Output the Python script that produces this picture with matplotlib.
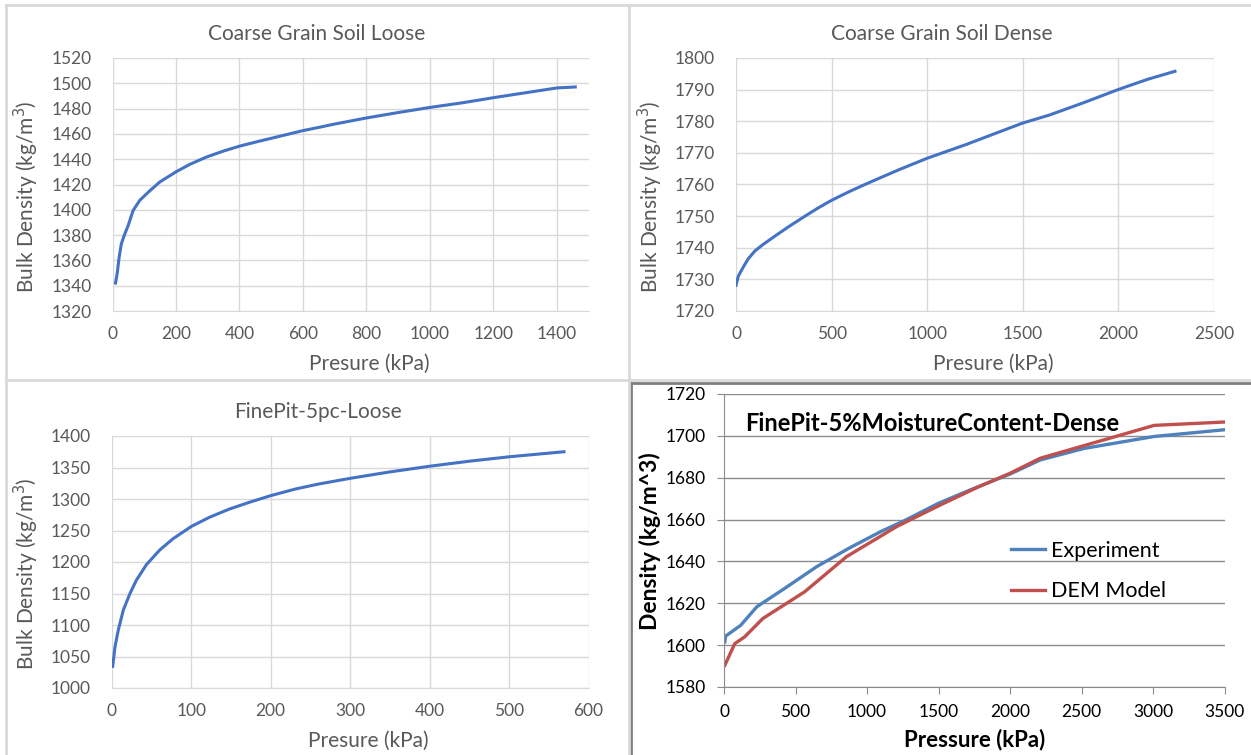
import matplotlib

matplotlib.use("Agg")
import matplotlib.pyplot as plt
from matplotlib.lines import Line2D

plt.rcParams["font.family"] = ["Lato", "DejaVu Sans"]

W, H = 1251, 755

# --- data ---
loose_p = [9.5, 14.7, 21, 28, 37, 49.5, 65, 86, 113, 149, 200, 244, 297, 349, 400, 455, 518,
           600, 655, 696, 800, 898, 1002, 1100, 1202, 1303, 1399, 1458]
loose_rho = [1342.1, 1349.5, 1362.7, 1373.2, 1379.8, 1387.7, 1399.5, 1407.5, 1414, 1422, 1430,
             1436, 1441.8, 1446.4, 1450.3, 1453.8, 1457.6, 1462.6, 1465.4, 1467.6, 1472.6,
             1476.8, 1481, 1484.5, 1488.7, 1492.6, 1496.3, 1497.1]

dense_p = [0, 12, 38, 64, 99, 143, 204, 274, 361, 430, 500, 587, 674, 761, 857, 1000, 1206,
           1380, 1498, 1641, 1815, 1998, 2059, 2155, 2296]
dense_rho = [1728.1, 1731.0, 1733.9, 1736.5, 1739.0, 1741.1, 1743.7, 1746.6, 1750.0, 1752.6,
             1755.0, 1757.6, 1760.0, 1762.3, 1764.8, 1768.3, 1772.7, 1776.7, 1779.4, 1782.0,
             1785.8, 1790.0, 1791.3, 1793.3, 1795.8]

fine_p = [1.25, 4.2, 8.3, 14.6, 23, 31, 43.8, 60.4, 77, 100, 123, 148, 173, 200, 231, 260, 301,
          350, 400, 450, 500, 569]
fine_rho = [1034.2, 1065.8, 1092, 1123.7, 1150, 1171, 1196, 1219, 1236.8, 1256.3, 1271,
            1284, 1294.7, 1305.3, 1315.8, 1323.7, 1333, 1343, 1352, 1360, 1367, 1375]

exp_p = [6, 11, 117, 229, 424, 648, 871, 1094, 1262, 1500, 1737, 2002, 2211, 2518, 3007, 3496]
exp_rho = [1601.6, 1604.3, 1609.5, 1618.3, 1627.1, 1637.5, 1646.2, 1654.2, 1659.5, 1667.8,
           1674.6, 1681.8, 1688.5, 1694.0, 1699.7, 1702.9]

dem_p = [6, 75, 145, 271, 564, 857, 1206, 1513, 1778, 2002, 2211, 3007, 3496]
dem_rho = [1590.4, 1600.7, 1604.0, 1612.7, 1625.5, 1642.3, 1656.6, 1667.0, 1675.6, 1682.2,
           1689.3, 1705.0, 1706.6]

TXT = "#595959"
GRID = "#d9d9d9"
BLUE = "#4472C4"


def px_axes(fig, left, right, top, bottom):
    return fig.add_axes([left / W, 1 - bottom / H, (right - left) / W, (bottom - top) / H])


def excel_axes(ax, xlim, xticks, ylim, yticks):
    ax.set_xlim(*xlim)
    ax.set_ylim(*ylim)
    ax.set_xticks(xticks)
    ax.set_yticks(yticks)
    ax.grid(True, color=GRID, linewidth=1.0)
    ax.set_axisbelow(True)
    for s in ["top", "right", "left"]:
        ax.spines[s].set_visible(False)
    ax.spines["bottom"].set_color(GRID)
    ax.tick_params(length=0, labelsize=12.5, labelcolor=TXT)
    ax.tick_params(axis="x", pad=11)
    ax.tick_params(axis="y", pad=15)


def ftext(x, y, s, **kw):
    fig.text(x / W, 1 - y / H, s, ha="center", va="center", **kw)


fig = plt.figure(figsize=(W / 100, H / 100), dpi=100)

# panel 1
ax1 = px_axes(fig, 112.5, 588.6, 58, 311)
ax1.plot(loose_p, loose_rho, color=BLUE, lw=2.2)
excel_axes(ax1, (0, 1500), range(0, 1401, 200), (1320, 1520), range(1320, 1521, 20))
ftext(317, 34, "Coarse Grain Soil Loose", fontsize=15, color=TXT)
ftext(369, 364, "Presure (kPa)", fontsize=15, color=TXT)
ftext(26, 197, "Bulk Density (kg/m$^3$)", fontsize=15, color=TXT, rotation=90)

# panel 2
ax2 = px_axes(fig, 736, 1214, 58, 311)
ax2.plot(dense_p, dense_rho, color=BLUE, lw=2.2)
excel_axes(ax2, (0, 2500), range(0, 2501, 500), (1720, 1800), range(1720, 1801, 10))
ftext(942, 34, "Coarse Grain Soil Dense", fontsize=15, color=TXT)
ftext(993, 364, "Presure (kPa)", fontsize=15, color=TXT)
ftext(650, 197, "Bulk Density (kg/m$^3$)", fontsize=15, color=TXT, rotation=90)

# panel 3
ax3 = px_axes(fig, 111.7, 588.6, 436, 688)
ax3.plot(fine_p, fine_rho, color=BLUE, lw=2.2)
excel_axes(ax3, (0, 600), range(0, 601, 100), (1000, 1400), range(1000, 1401, 50))
ftext(318, 412, "FinePit-5pc-Loose", fontsize=15, color=TXT)
ftext(368, 741, "Presure (kPa)", fontsize=15, color=TXT)
ftext(26, 574, "Bulk Density (kg/m$^3$)", fontsize=15, color=TXT, rotation=90)

# panel 4 (older Excel style)
ax4 = px_axes(fig, 724, 1224.6, 394, 687)
ax4.plot(exp_p, exp_rho, color="#4F81BD", lw=2.4, label="Experiment")
ax4.plot(dem_p, dem_rho, color="#C0504D", lw=2.4, label="DEM Model")
ax4.set_xlim(0, 3500)
ax4.set_ylim(1580, 1720)
ax4.set_xticks(range(0, 3501, 500))
ax4.set_yticks(range(1580, 1721, 20))
ax4.grid(True, axis="y", color="#8c8c8c", linewidth=1.0)
ax4.set_axisbelow(True)
for s in ["top", "right"]:
    ax4.spines[s].set_visible(False)
for s in ["left", "bottom"]:
    ax4.spines[s].set_color("#8c8c8c")
ax4.tick_params(direction="out", length=5, color="#8c8c8c", labelsize=12.5, labelcolor="black")
ax4.tick_params(axis="x", pad=7)
ax4.tick_params(axis="y", pad=8)
ax4.text(0.042, 0.90, "FinePit-5%MoistureContent-Dense", transform=ax4.transAxes,
         fontsize=17, fontweight="bold", ha="left", va="center")
ax4.legend(loc="center left", bbox_to_anchor=(992 / W, 1 - 571 / H),
           bbox_transform=fig.transFigure, frameon=False, fontsize=15.5,
           handlelength=1.58, handletextpad=0.25, labelspacing=0.95)
ftext(975, 740, "Pressure (kPa)", fontsize=16, fontweight="bold")
ftext(650, 541, "Density (kg/m^3)", fontsize=16.5, fontweight="bold", rotation=90)

# panel frames
light = dict(color=GRID, linewidth=2, transform=fig.transFigure)
fig.add_artist(Line2D([6 / W, 1], [1 - 5 / H, 1 - 5 / H], **light))
fig.add_artist(Line2D([6 / W, 6 / W], [1 - 5 / H, 0], **light))
fig.add_artist(Line2D([629 / W, 629 / W], [1 - 5 / H, 1 - 380 / H], **light))
fig.add_artist(Line2D([6 / W, 629 / W], [1 - 380 / H, 1 - 380 / H], **light))
fig.add_artist(Line2D([629 / W, 1], [1 - 380 / H, 1 - 380 / H], **light))
dark = dict(color="#7f7f7f", linewidth=2, transform=fig.transFigure)
fig.add_artist(Line2D([631 / W, 1], [1 - 383 / H, 1 - 383 / H], **dark))
fig.add_artist(Line2D([631 / W, 631 / W], [1 - 383 / H, 0], **dark))
fig.add_artist(Line2D([629 / W, 629 / W], [1 - 380 / H, 0], **light))

fig.savefig("out.png", dpi=100)
